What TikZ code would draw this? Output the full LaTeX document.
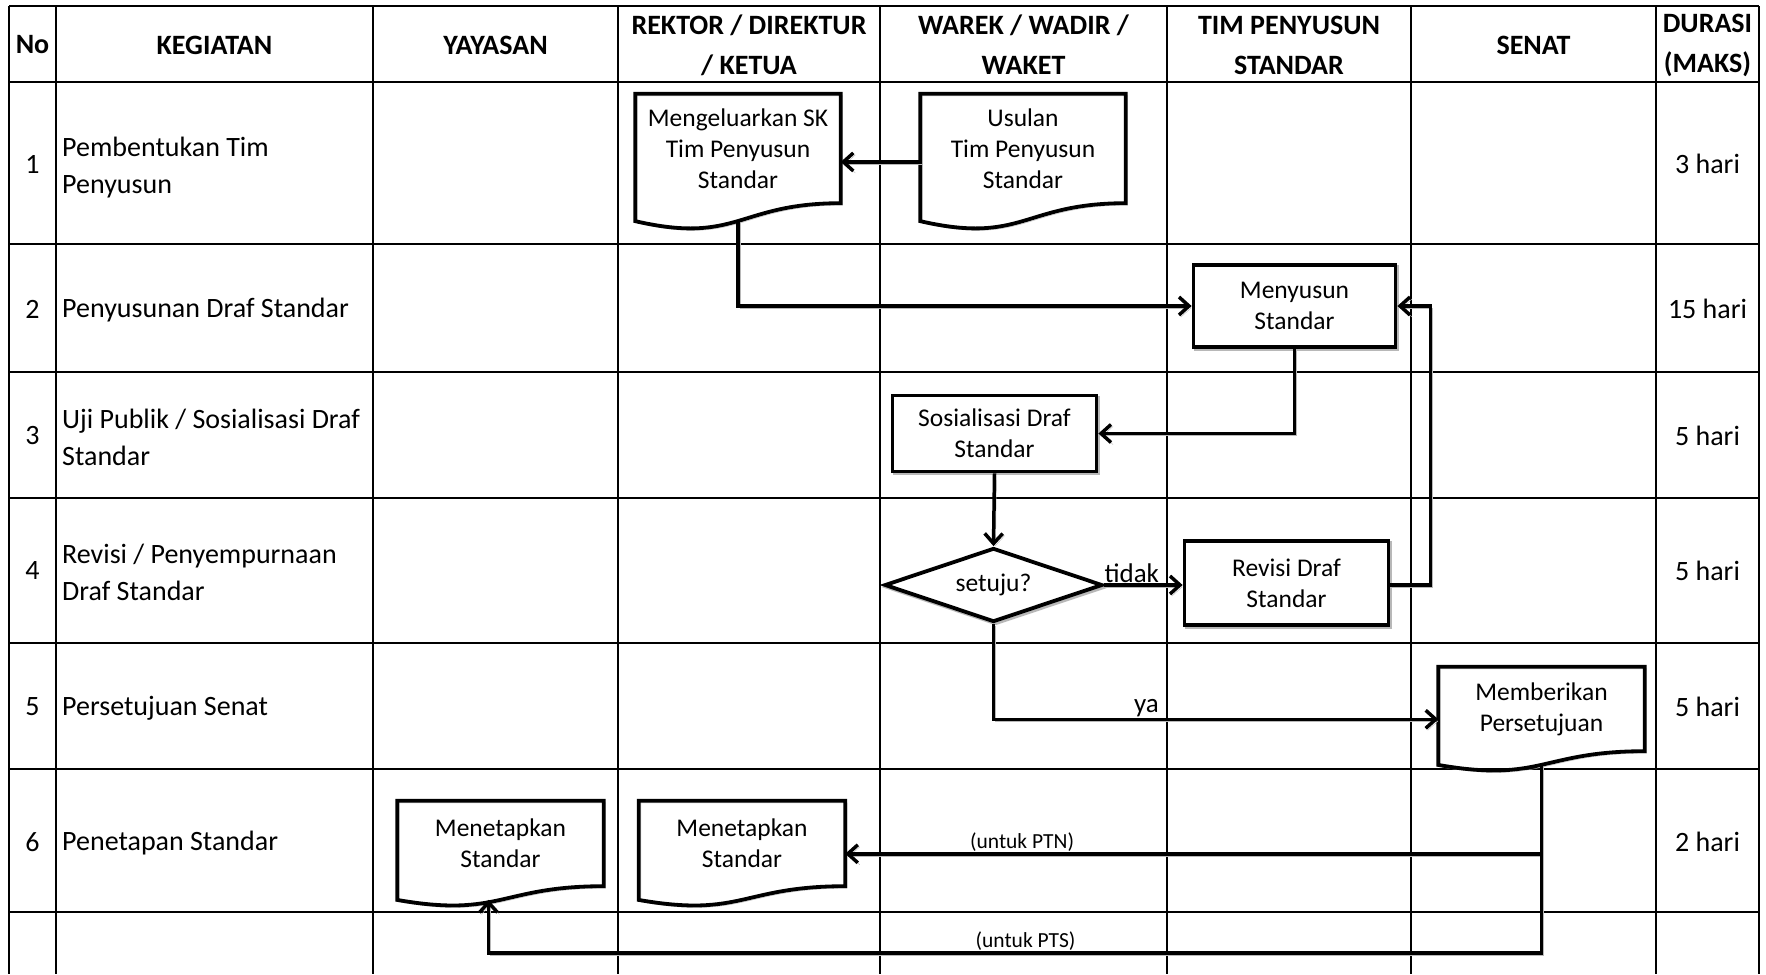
\documentclass[tikz,border=0pt]{standalone}
\usepackage{fontspec}
\setmainfont{Carlito}
\usetikzlibrary{arrows.meta,calc,shapes.geometric}
\newcommand\docshape[2]{%
  \draw[shp, shadowed] (#1.north west) -- (#1.north east) -- (#1.south east)
    .. controls (#1.south) and ([yshift={-0.3055*#2}]#1.south) .. ([yshift={-0.132*#2}]#1.south west) -- cycle;
  \coordinate (#1-b) at ([yshift={-0.131*#2}]#1.south);
  \coordinate (#1-w) at ([yshift={-0.099*#2}]#1.west);
  \coordinate (#1-e) at ([yshift={-0.099*#2}]#1.east);
}
\begin{document}
\begin{tikzpicture}[x=1pt,y=-1pt,
  vline/.style={line width=1.6pt},
  hline/.style={line width=2.1pt},
  shadowed/.style={preaction={draw=black!28, transform canvas={shift={(2pt,-2pt)}}}},
  shp/.style={line width=3.8pt, line join=miter},
  conn/.style={line width=3.5pt, shadowed, -{Straight Barb[length=10pt,width=18pt]}},
  box/.style={draw, shp, shadowed, fill=white, align=center, inner sep=0pt, font=\fontsize{25.5}{31}\selectfont},
  doc/.style={align=center, inner sep=0pt, font=\fontsize{25.5}{31}\selectfont},
  hdr/.style={align=center, inner sep=0pt, font=\bfseries\fontsize{28}{40}\selectfont},
  txt/.style={align=left, anchor=west, inner sep=0pt, font=\fontsize{28}{37}\selectfont},
  num/.style={inner sep=0pt, font=\fontsize{28}{37}\selectfont},
  lbl/.style={font=\fontsize{27}{30}\selectfont, anchor=south, inner sep=0.5pt},
  small/.style={font=\fontsize{21.5}{24}\selectfont, anchor=south, inner sep=1pt},
]
\useasboundingbox (0,0) rectangle (1766,974);
\fill[white] (0,0) rectangle (1766,974);
% table
\foreach \x in {9,56,373,618,880,1167,1411,1656,1759} \draw[vline] (\x,6) -- (\x,974);
\foreach \y in {6,82,244,372,498,643,769,912} \draw[hline] (9,\y) -- (1759,\y);
% headers
\node[hdr] (hNo) at (32.5,45) {No};
\node[hdr] (hKeg) at (214.5,45) {KEGIATAN};
\node[hdr] (hYay) at (495.5,45) {YAYASAN};
\node[hdr] (hRek) at (749,45) {REKTOR / DIREKTUR\\/ KETUA};
\node[hdr] (hWar) at (1023.5,45) {WAREK / WADIR /\\WAKET};
\node[hdr] (hTim) at (1289,45) {TIM PENYUSUN\\STANDAR};
\node[hdr] (hSen) at (1533.5,45) {SENAT};
\node[hdr] (hDur) at (1707.5,45) {DURASI\\(MAKS)};
% numbers
\node[num] (n1) at (32.5,164) {1};
\node[num] (n2) at (32.5,309) {2};
\node[num] (n3) at (32.5,436) {3};
\node[num] (n4) at (32.5,571) {4};
\node[num] (n5) at (32.5,707) {5};
\node[num] (n6) at (32.5,842) {6};
% activities
\node[txt] (k1) at (62,168) {Pembentukan Tim\\Penyusun};
\node[txt] (k2) at (62,310) {Penyusunan Draf Standar};
\node[txt] (k3) at (62,437) {Uji Publik / Sosialisasi Draf\\Standar};
\node[txt] (k4) at (62,572) {Revisi / Penyempurnaan\\Draf Standar};
\node[txt] (k5) at (62,708) {Persetujuan Senat};
\node[txt] (k6) at (62,843) {Penetapan Standar};
% durations
\node[num] (d1) at (1707.5,164) {3 hari};
\node[num] (d2) at (1707.5,309) {15 hari};
\node[num] (d3) at (1707.5,436) {5 hari};
\node[num] (d4) at (1707.5,571) {5 hari};
\node[num] (d5) at (1707.5,707) {5 hari};
\node[num] (d6) at (1707.5,842) {2 hari};
% documents
\node[doc, minimum width=205pt, minimum height=109pt] (doc1) at (738,148.5) {Mengeluarkan SK\\Tim Penyusun\\Standar};
\docshape{doc1}{136pt}
\node[doc, minimum width=205pt, minimum height=109pt] (doc2) at (1023,148.5) {Usulan\\Tim Penyusun\\Standar};
\docshape{doc2}{136pt}
\node[doc, minimum width=206pt, minimum height=84pt] (memb) at (1541.5,709) {Memberikan\\Persetujuan};
\docshape{memb}{104pt}
\node[doc, minimum width=206pt, minimum height=85pt] (men1) at (500.5,843.5) {Menetapkan\\Standar};
\docshape{men1}{104pt}
\node[doc, minimum width=206pt, minimum height=85pt] (men2) at (742,843.5) {Menetapkan\\Standar};
\docshape{men2}{104pt}
% boxes
\node[box, minimum width=202pt, minimum height=82pt] (meny) at (1294.5,306) {Menyusun\\Standar};
\node[box, minimum width=204pt, minimum height=76pt] (sos) at (994.5,433.5) {Sosialisasi Draf\\Standar};
\node[box, diamond, aspect=2.9, minimum width=218pt, minimum height=74pt] (dia) at (993.5,585) {setuju?};
\node[box, minimum width=204pt, minimum height=84pt] (rev) at (1286.5,583) {Revisi Draf\\Standar};
% connectors
\draw[conn] (doc2-w) -- (doc1-e);
\draw[conn] (doc1-b) |- (meny.west);
\draw[conn] (meny.south) |- (sos.east);
\draw[conn] (sos.south) -- (dia.north);
\draw[conn] (dia.east) -- node[lbl, pos=0.35] (tidak) {tidak} (dia.east -| rev.west);
\coordinate (lp) at ([xshift=33pt]meny.east);
\draw[conn] (rev.east |- dia.east) -| (lp) -- (meny.east);
\draw[conn] (dia.south) |- node[lbl, pos=0.672] (ya) {ya} (memb-w);
\draw[conn] (memb-b) |- node[small, pos=0.873] (ptn) {(untuk PTN)} (men2-e);
\coordinate (ptsy) at (0,953);
\coordinate (m1t) at ([xshift=-12pt]men1-b);
\draw[conn] (memb-b) -- (memb-b |- ptsy) -| node[small, pos=0.245] (pts) {(untuk PTS)} (m1t);
\end{tikzpicture}
\end{document}
